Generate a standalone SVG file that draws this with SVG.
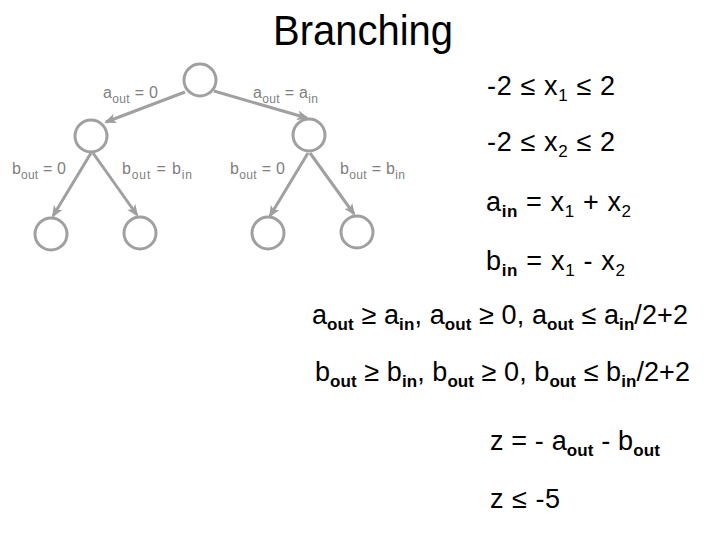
<svg xmlns="http://www.w3.org/2000/svg" width="720" height="540" viewBox="0 0 720 540">
<defs>
<style>
.node{fill:none;stroke:#a0a0a0;stroke-width:3}
.edge{stroke:#a0a0a0;stroke-width:3;fill:none}
.lbl{font-family:"Liberation Sans",Arial,sans-serif;font-size:16px;fill:#7f7f7f}
.lsub{font-size:12px}
.eq{font-family:"Liberation Sans",Arial,sans-serif;font-size:27px;fill:#000}
.sub{font-size:17px;font-weight:bold}
.title{font-family:"Liberation Sans",Arial,sans-serif;font-size:42px;fill:#000}
</style>
<marker id="arr" viewBox="0 0 12 10" refX="10" refY="5" markerWidth="12" markerHeight="10" markerUnits="userSpaceOnUse" orient="auto">
<path d="M0,0 L12,5 L0,10 L3,5 Z" fill="#a0a0a0"/>
</marker>
</defs>
<rect width="720" height="540" fill="#fff"/>
<text class="title" x="273" y="45" textLength="180" lengthAdjust="spacingAndGlyphs">Branching</text>
<g id="connectors">
<line class="edge" x1="185" y1="92" x2="106" y2="122" marker-end="url(#arr)"/>
<line class="edge" x1="214" y1="91" x2="307" y2="118" marker-end="url(#arr)"/>
<line class="edge" x1="91" y1="153" x2="53" y2="216" marker-end="url(#arr)"/>
<line class="edge" x1="93" y1="153" x2="137" y2="215" marker-end="url(#arr)"/>
<line class="edge" x1="308" y1="153" x2="270" y2="216" marker-end="url(#arr)"/>
<line class="edge" x1="310" y1="153" x2="354" y2="214" marker-end="url(#arr)"/>
</g>
<g id="root"><circle class="node" cx="200" cy="80" r="16"/></g>
<g id="left"><circle class="node" cx="91" cy="136" r="16"/></g>
<g id="right"><circle class="node" cx="309" cy="135" r="16"/></g>
<g id="leaf1"><circle class="node" cx="51" cy="234" r="16"/></g>
<g id="leaf2"><circle class="node" cx="140" cy="233" r="16"/></g>
<g id="leaf3"><circle class="node" cx="268" cy="233" r="16"/></g>
<g id="leaf4"><circle class="node" cx="357" cy="232" r="16"/></g>
<g id="labels">
<text class="lbl" x="103" y="98" textLength="55">a<tspan class="lsub" dy="5">out</tspan><tspan dy="-5"> = 0</tspan></text>
<text class="lbl" x="253" y="98" textLength="65">a<tspan class="lsub" dy="5">out</tspan><tspan dy="-5"> = a</tspan><tspan class="lsub" dy="5">in</tspan></text>
<text class="lbl" x="12" y="174" textLength="54">b<tspan class="lsub" dy="5">out</tspan><tspan dy="-5"> = 0</tspan></text>
<text class="lbl" x="122" y="174" textLength="70">b<tspan class="lsub" dy="5">out</tspan><tspan dy="-5"> = b</tspan><tspan class="lsub" dy="5">in</tspan></text>
<text class="lbl" x="230" y="174" textLength="55">b<tspan class="lsub" dy="5">out</tspan><tspan dy="-5"> = 0</tspan></text>
<text class="lbl" x="340" y="174" textLength="65">b<tspan class="lsub" dy="5">out</tspan><tspan dy="-5"> = b</tspan><tspan class="lsub" dy="5">in</tspan></text>
</g>
<g id="equations">
<text class="eq" x="487" y="95" textLength="128">-2 ≤ x<tspan class="sub" style="font-weight:normal" dy="6">1</tspan><tspan dy="-6"> ≤ 2</tspan></text>
<text class="eq" x="487" y="151" textLength="128">-2 ≤ x<tspan class="sub" style="font-weight:normal" dy="6">2</tspan><tspan dy="-6"> ≤ 2</tspan></text>
<text class="eq" x="486" y="211" textLength="145">a<tspan class="sub" dy="6">in</tspan><tspan dy="-6"> = x</tspan><tspan class="sub" style="font-weight:normal" dy="6">1</tspan><tspan dy="-6"> + x</tspan><tspan class="sub" style="font-weight:normal" dy="6">2</tspan></text>
<text class="eq" x="486" y="270" textLength="139">b<tspan class="sub" dy="6">in</tspan><tspan dy="-6"> = x</tspan><tspan class="sub" style="font-weight:normal" dy="6">1</tspan><tspan dy="-6"> - x</tspan><tspan class="sub" style="font-weight:normal" dy="6">2</tspan></text>
<text class="eq" x="312" y="324" textLength="376">a<tspan class="sub" dy="6">out</tspan><tspan dy="-6"> ≥ a</tspan><tspan class="sub" dy="6">in</tspan><tspan dy="-6">, a</tspan><tspan class="sub" dy="6">out</tspan><tspan dy="-6"> ≥ 0, a</tspan><tspan class="sub" dy="6">out</tspan><tspan dy="-6"> ≤ a</tspan><tspan class="sub" dy="6">in</tspan><tspan dy="-6">/2+2</tspan></text>
<text class="eq" x="315" y="381" textLength="375">b<tspan class="sub" dy="6">out</tspan><tspan dy="-6"> ≥ b</tspan><tspan class="sub" dy="6">in</tspan><tspan dy="-6">, b</tspan><tspan class="sub" dy="6">out</tspan><tspan dy="-6"> ≥ 0, b</tspan><tspan class="sub" dy="6">out</tspan><tspan dy="-6"> ≤ b</tspan><tspan class="sub" dy="6">in</tspan><tspan dy="-6">/2+2</tspan></text>
<text class="eq" x="490" y="450" textLength="170">z = - a<tspan class="sub" dy="6">out</tspan><tspan dy="-6"> - b</tspan><tspan class="sub" dy="6">out</tspan></text>
<text class="eq" x="490" y="508" textLength="70">z ≤ -5</text>
</g>
</svg>
